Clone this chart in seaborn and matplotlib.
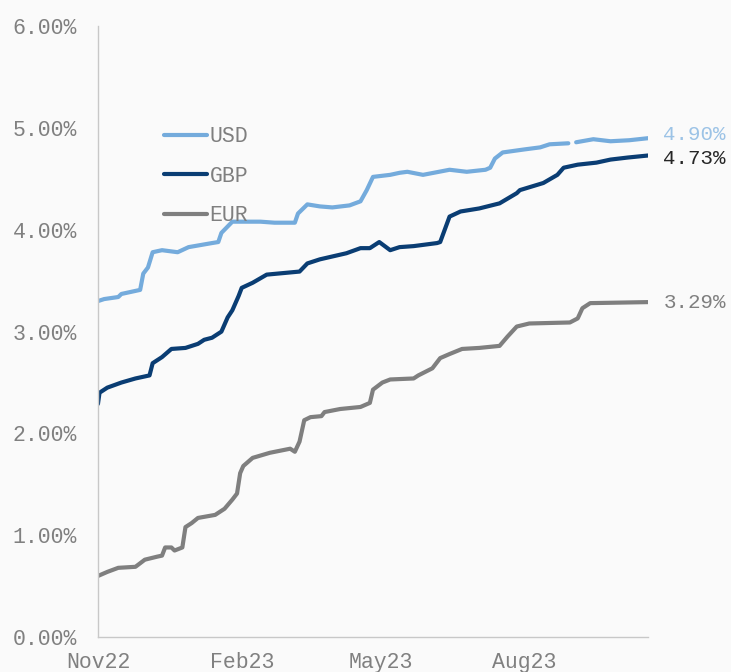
import numpy as np
import pandas as pd
import seaborn as sns
import matplotlib.pyplot as plt
import matplotlib.dates as mdates
from matplotlib.ticker import FuncFormatter

# days since 1 Nov 2022 and rate (%) at the turning points of each curve
start = pd.Timestamp("2022-11-01")

usd_day = [0, 4, 13, 15, 27, 29, 32, 35, 41, 51, 58, 73, 77, 79, 86, 104, 113, 126, 128,
           134, 142, 150, 161, 168, 172, 176, 187, 193, 198, 208, 225, 236, 248, 251, 254,
           259, 273, 283, 289, 301, 303, 306, 317, 328, 340, 352]
usd_val = [3.30, 3.32, 3.34, 3.37, 3.41, 3.57, 3.63, 3.78, 3.80, 3.78, 3.83, 3.87, 3.88, 3.97,
           4.08, 4.08, 4.07, 4.07, 4.16, 4.25, 4.23, 4.22, 4.24, 4.28, 4.39, 4.52, 4.54, 4.56,
           4.57, 4.54, 4.59, 4.57, 4.59, 4.61, 4.70, 4.76, 4.79, 4.81, 4.84, 4.85, np.nan,
           4.86, 4.89, 4.87, 4.88, 4.90]

gbp_day = [0, 1, 6, 15, 24, 33, 35, 41, 47, 56, 64, 68, 73, 79, 83, 86, 90, 92, 99, 108,
           129, 134, 142, 159, 168, 174, 180, 187, 193, 202, 217, 219, 225, 232, 244, 257,
           268, 270, 285, 294, 298, 307, 319, 328, 339, 352]
gbp_val = [2.29, 2.40, 2.45, 2.50, 2.54, 2.57, 2.69, 2.75, 2.83, 2.84, 2.88, 2.92, 2.94, 3.00,
           3.14, 3.21, 3.35, 3.43, 3.48, 3.56, 3.59, 3.67, 3.71, 3.77, 3.82, 3.82, 3.88, 3.80,
           3.83, 3.84, 3.87, 3.88, 4.13, 4.18, 4.21, 4.26, 4.36, 4.39, 4.46, 4.54, 4.61, 4.64,
           4.66, 4.69, 4.71, 4.73]

eur_day = [0, 6, 13, 24, 30, 38, 41, 43, 47, 49, 54, 56, 60, 64, 75, 81, 86, 89, 91, 93,
           99, 110, 123, 126, 129, 132, 136, 143, 145, 155, 168, 174, 176, 182, 187, 202,
           205, 214, 219, 225, 233, 244, 257, 262, 268, 276, 302, 307, 310, 315, 352]
eur_val = [0.60, 0.64, 0.68, 0.69, 0.76, 0.79, 0.80, 0.88, 0.88, 0.85, 0.88, 1.08, 1.12, 1.17,
           1.20, 1.26, 1.35, 1.41, 1.61, 1.68, 1.76, 1.81, 1.85, 1.82, 1.92, 2.13, 2.16, 2.17,
           2.21, 2.24, 2.26, 2.30, 2.43, 2.50, 2.53, 2.54, 2.57, 2.64, 2.74, 2.78, 2.83, 2.84,
           2.86, 2.95, 3.05, 3.08, 3.09, 3.13, 3.23, 3.28, 3.29]

series = ["USD", "GBP", "EUR"]
end_labels = ["4.90%", "4.73%", "3.29%"]
colors = {"USD": "#74abdc", "GBP": "#0a3d73", "EUR": "#7f7f7f"}
label_colors = ["#9cc3e6", "#262626", "#7f7f7f"]
label_nudge = [2.5, -2.5, 0]  # points, keeps the two top labels apart

frames = []
for name, days, vals in zip(series, [usd_day, gbp_day, eur_day], [usd_val, gbp_val, eur_val]):
    d = pd.DataFrame({
        "date": start + pd.to_timedelta(days, unit="D"),
        "rate": vals,
        "ccy": name,
    })
    # a missing value splits the line into separate pieces
    d["seg"] = name + d["rate"].isna().cumsum().astype(str)
    frames.append(d.dropna())
df = pd.concat(frames, ignore_index=True)

sns.set_theme(style="white")
plt.rcParams["font.family"] = ["Liberation Mono", "DejaVu Sans"]
bg = "#fafafa"
fig = plt.figure(figsize=(7.31, 6.72), dpi=100, facecolor=bg)
ax = fig.add_axes([0.134, 0.052, 0.7525, 0.909], facecolor=bg)

sns.lineplot(data=df, x="date", y="rate", hue="ccy", hue_order=series, palette=colors,
             units="seg", estimator=None, sort=False, linewidth=3, legend=False, ax=ax)

ax.set_ylim(0, 6)
ax.set_yticks(range(0, 7))
ax.yaxis.set_major_formatter(FuncFormatter(lambda v, p: f"{v:.2f}%"))
ax.set_xlim(start, start + pd.Timedelta(days=352))
ax.xaxis.set_major_locator(mdates.MonthLocator(bymonth=[2, 5, 8, 11]))
ax.xaxis.set_major_formatter(mdates.DateFormatter("%b%y"))
ax.set_xlabel("")
ax.set_ylabel("")

for s in ["top", "right"]:
    ax.spines[s].set_visible(False)
for s in ["left", "bottom"]:
    ax.spines[s].set_color("#c8c8c8")
    ax.spines[s].set_linewidth(1)
ax.tick_params(axis="both", which="major", length=5, width=1, color="#c8c8c8",
               labelsize=15.5, labelcolor="#808080", direction="out")
ax.tick_params(axis="y", pad=10)
ax.tick_params(axis="x", pad=6)

for vals, txt, c, dy in zip([usd_val, gbp_val, eur_val], end_labels, label_colors, label_nudge):
    ax.annotate(txt, xy=(start + pd.Timedelta(days=352), vals[-1]), xytext=(11, dy),
                textcoords="offset points", va="center", ha="left", fontsize=15, color=c)

legend_handles = [plt.Line2D([], [], color=colors[s], linewidth=3) for s in series]
ax.legend(legend_handles, series, loc="upper left", bbox_to_anchor=(0.105, 0.85),
          frameon=False, fontsize=15.5, labelcolor="#7f7f7f", handlelength=2.0,
          handletextpad=0.1, labelspacing=0.85, borderaxespad=0)

fig.savefig("out.png", dpi=100, facecolor=bg)
